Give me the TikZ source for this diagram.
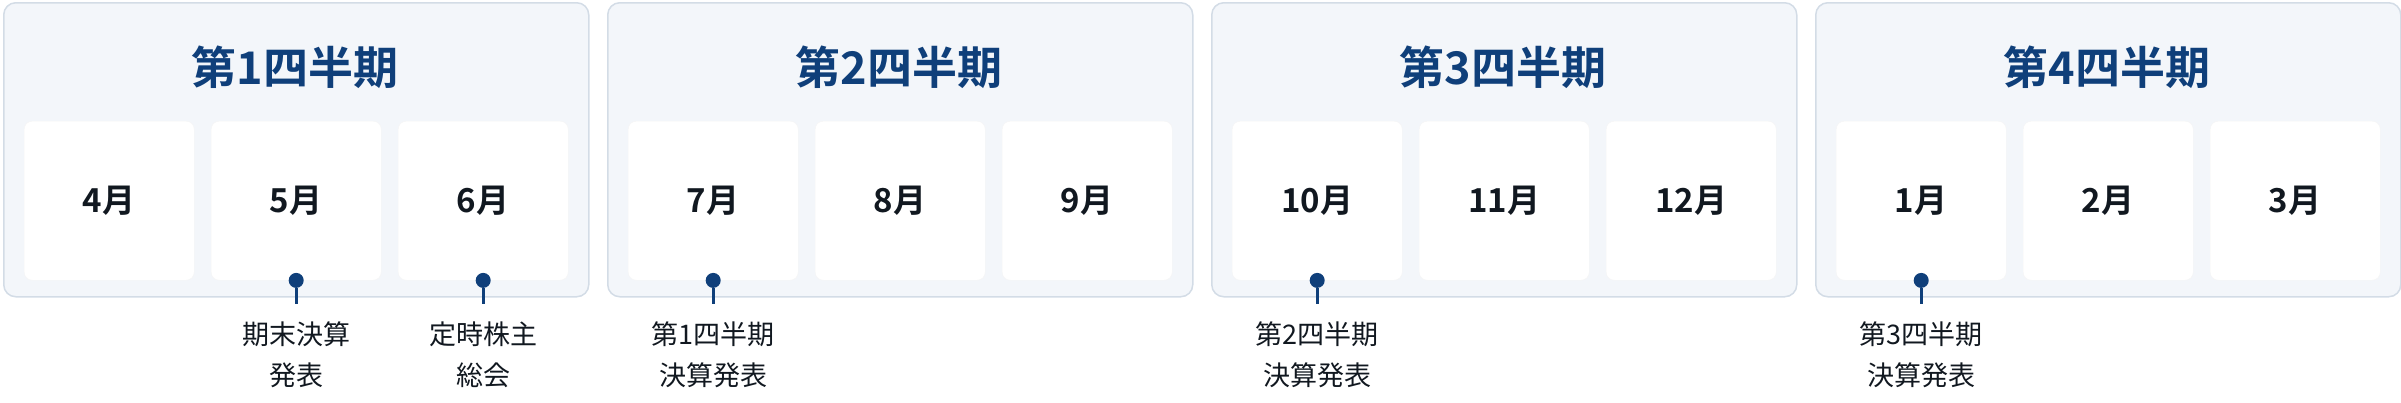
\documentclass[tikz,border=0pt]{standalone}
\usepackage{fontspec}
\setmainfont{Noto Sans CJK JP}
\newfontfamily\jpb{Noto Sans CJK JP Bold}
\definecolor{navy}{HTML}{0F3F7A}
\definecolor{pfill}{HTML}{F3F6FA}
\definecolor{pline}{HTML}{D3DCE6}
\definecolor{ink}{HTML}{111820}
\tikzset{
 panel/.style={draw=pline,line width=1.5pt,fill=pfill,rounded corners=12pt,minimum width=585pt,minimum height=294pt,anchor=north west,inner sep=0pt},
 month/.style={fill=white,draw=black!4,rounded corners=8pt,minimum width=170pt,minimum height=159pt,anchor=north west,inner sep=0pt,font=\jpb\fontsize{33}{36}\selectfont,text=ink},
 qtitle/.style={font=\jpb\fontsize{45}{50}\selectfont,text=navy},
 dotc/.style={circle,fill=navy,inner sep=0pt,minimum size=15pt},
 stem/.style={draw=navy,line width=3pt},
 lab/.style={font=\fontsize{27}{41}\selectfont,align=center,text=ink,anchor=north}
}
\begin{document}
\begin{tikzpicture}[x=1pt,y=-1pt]
\useasboundingbox (0,0) rectangle (2401,402);
\foreach \q/\a/\b/\c [count=\i from 0] in {1/4/5/6,2/7/8/9,3/10/11/12,4/1/2/3}{
 \pgfmathsetmacro{\ox}{3+604*\i}
 \node[panel] (p\i) at (\ox,2) {};
 \node[qtitle] (t\i) at (\ox+292,67) {第\q 四半期};
 \node[month] (m\i a) at (\ox+21,121) {\a 月};
 \node[month] (m\i b) at (\ox+208,121) {\b 月};
 \node[month] (m\i c) at (\ox+395,121) {\c 月};
}
\foreach \m/\t in {m0b/{期末決算\\発表},m0c/{定時株主\\総会},m1a/{第1四半期\\決算発表},m2a/{第2四半期\\決算発表},m3a/{第3四半期\\決算発表}}{
 \node[dotc] (d\m) at (\m.south) {};
 \coordinate (e\m) at ([yshift=-24pt]\m.south);
 \draw[stem] (d\m) -- (e\m);
 \node[lab] (l\m) at ([yshift=-14pt]e\m) {\t};
}
\end{tikzpicture}
\end{document}
